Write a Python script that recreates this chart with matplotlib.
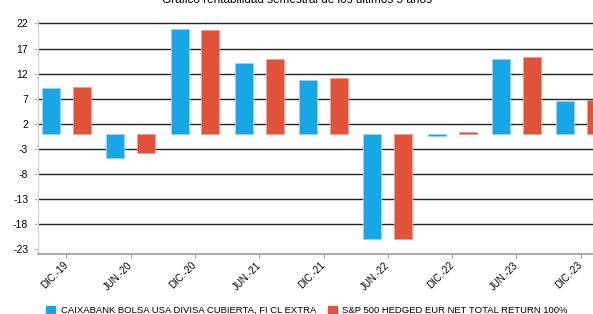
import matplotlib
matplotlib.use("Agg")
import matplotlib.pyplot as plt
import matplotlib.transforms as mtransforms
from matplotlib.patches import Patch
import numpy as np

# Semester returns (%)
periods = ["DIC.-19", "JUN.-20", "DIC.-20", "JUN.-21", "DIC.-21",
           "JUN.-22", "DIC.-22", "JUN.-23", "DIC.-23"]
fund = [9.1, -4.8, 20.9, 14.1, 10.7, -21.0, -0.5, 14.9, 6.5]
index = [9.3, -3.9, 20.6, 14.9, 11.1, -21.0, 0.4, 15.3, 6.7]
fund_name = "CAIXABANK BOLSA USA DIVISA CUBIERTA, FI CL EXTRA"
index_name = "S&P 500 HEDGED EUR NET TOTAL RETURN 100%"
yticks = list(range(-23, 23, 5))

blue = "#17a6e6"
red = "#e0533a"

plt.rcParams["font.family"] = ["Liberation Sans", "DejaVu Sans"]


def main():
    fig = plt.figure(figsize=(5.93, 3.14), dpi=100)
    ax = fig.add_axes([0.064, 0.191, 0.936, 0.745])

    x = np.arange(len(periods))
    w = 0.28
    off = 0.24

    # horizontal grid lines (no line at the bottom tick)
    for t in yticks[1:]:
        ax.axhline(t, color="#222222", lw=1.0, zorder=1)

    ax.bar(x - off, fund, w, color=blue, edgecolor="#8fd6f5", lw=0.6, zorder=3)
    ax.bar(x + off, index, w, color=red, edgecolor="#f0a090", lw=0.6, zorder=3)

    ax.set_xlim(-0.443, 8.19)
    ax.set_ylim(-23.94, 22.66)
    ax.set_yticks(yticks)
    ax.set_yticklabels([str(t) for t in yticks], fontsize=7.5)
    ax.set_xticks(x)
    ax.set_xticklabels(periods, rotation=45, ha="right", va="center",
                       rotation_mode="anchor", fontsize=7)
    shift = mtransforms.ScaledTranslation(9 / 72, 0, fig.dpi_scale_trans)
    for lab in ax.get_xticklabels():
        lab.set_transform(lab.get_transform() + shift)

    for s in ["top", "right"]:
        ax.spines[s].set_visible(False)
    ax.spines["left"].set_color("#cccccc")
    ax.spines["bottom"].set_color("#999999")
    ax.spines["bottom"].set_linewidth(1.2)
    ax.tick_params(axis="y", length=3, color="#bbbbbb", pad=4)
    ax.tick_params(axis="x", length=3, color="#999999", pad=4)

    fig.text(0.5, 1.0, "Gráfico rentabilidad semestral de los últimos 5 años",
             ha="center", va="center", fontsize=8.5)

    handles = [Patch(color=blue), Patch(color=red)]
    fig.legend(handles, [fund_name, index_name], ncol=2, loc="lower left",
               bbox_to_anchor=(0.064, -0.03), frameon=False, fontsize=6.8,
               handlelength=0.9, handleheight=0.9, handletextpad=0.6,
               columnspacing=1.3)

    fig.savefig("out.png", dpi=100)


if __name__ == "__main__":
    main()
